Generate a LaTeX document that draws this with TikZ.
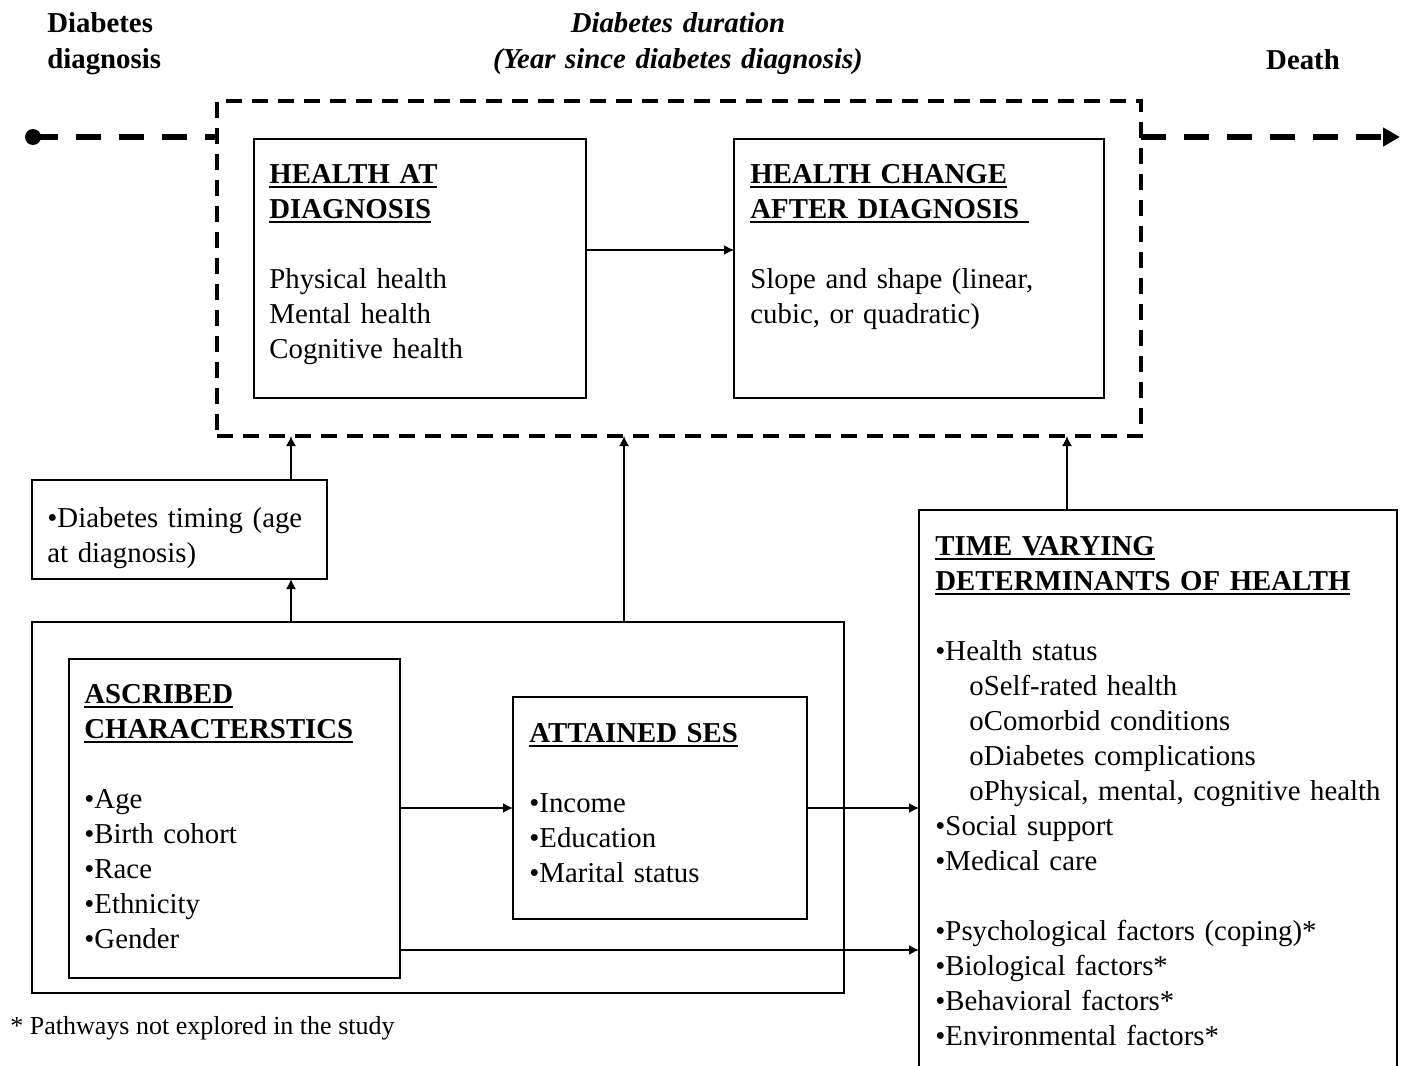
\documentclass[tikz,border=0pt]{standalone}
\usepackage{fontspec}
\setmainfont{Liberation Serif}
\usetikzlibrary{arrows.meta, positioning}

\newcommand{\ulhd}[1]{\leavevmode\setbox0\hbox{\bfseries #1}\rlap{\rule[-2.5pt]{\wd0}{0.9pt}}\box0}
\newcommand{\subitm}{\hspace*{17pt}o}

\begin{document}
\begin{tikzpicture}[
    x=0.5pt, y=-0.5pt,
    box/.style={
        rectangle, draw, line width=0.75pt, inner sep=0pt, outer sep=0pt,
        anchor=north west
    },
    durbox/.style={
        box, line width=2pt, dash pattern=on 8pt off 5pt
    },
    txt/.style={
        anchor=base west, inner sep=0pt, align=left, text width=#1,
        font=\fontsize{14.4}{17.5}\selectfont
    },
    lbl/.style={
        inner sep=0pt, font=\fontsize{14.4}{17.5}\selectfont\bfseries
    },
    timeline/.style={line width=3pt, dash pattern=on 12.5pt off 9pt},
    arrow/.style={line width=0.75pt, -{Latex[length=5pt,width=5pt]}}
]
\useasboundingbox (0,0) rectangle (1401,1065);
\clip (0,0) rectangle (1401,1065);

%% Time axis
\node (lbldiag)  [lbl, anchor=base west, align=left, text width=80pt] at (47,33)
    {Diabetes\\diagnosis};
\node (lbldur)   [lbl, anchor=base, align=center, text width=220pt] at (678,33)
    {\itshape Diabetes duration\\\itshape (Year since diabetes diagnosis)};
\node (lbldeath) [lbl, anchor=base] at (1303,70) {Death};

%% Health over the diabetes duration
\node (dur) [durbox, minimum width=462pt, minimum height=167.5pt] at (217,101) {};
\node (hd)  [box, minimum width=166pt, minimum height=129.5pt] at (254,139) {};
\node (hc)  [box, minimum width=185pt, minimum height=129.5pt] at (734,139) {};

\node (hdtext) [txt=150pt] at ([xshift=7.5pt,yshift=-22pt]hd.north west)
    {\ulhd{HEALTH AT}\\\ulhd{DIAGNOSIS}\\[17.5pt]
     Physical health\\Mental health\\Cognitive health};
\node (hctext) [txt=170pt] at ([xshift=8pt,yshift=-22pt]hc.north west)
    {\ulhd{HEALTH CHANGE}\\\ulhd{AFTER DIAGNOSIS\ }\\[17.5pt]
     Slope and shape (linear,\\cubic, or quadratic)};

\node (tstart) [circle, fill, inner sep=0pt, minimum size=8pt] at (33,137) {};
\coordinate (tend) at (1400,137);

%% Diabetes timing
\node (timing) [box, minimum width=147.5pt, minimum height=49.5pt] at (32,480) {};
\node (timingtext) [txt=135pt] at ([xshift=7.5pt,yshift=-23.5pt]timing.north west)
    {•Diabetes timing (age\\at diagnosis)};

%% Ascribed characteristics and attained SES
\node (outer) [box, minimum width=406pt, minimum height=185.5pt] at (32,622) {};
\node (asc)   [box, minimum width=165.5pt, minimum height=159.5pt] at (69,659) {};
\node (ses)   [box, minimum width=147pt, minimum height=111pt] at (513,697) {};

\node (asctext) [txt=150pt] at ([xshift=7.5pt,yshift=-22pt]asc.north west)
    {\ulhd{ASCRIBED}\\\ulhd{CHARACTERSTICS}\\[17.5pt]
     •Age\\•Birth cohort\\•Race\\•Ethnicity\\•Gender};
\node (sestext) [txt=135pt] at ([xshift=8pt,yshift=-22.5pt]ses.north west)
    {\ulhd{ATTAINED SES}\\[17.5pt]
     •Income\\•Education\\•Marital status};

%% Time varying determinants
\node (tv) [box, minimum width=239pt, minimum height=290pt] at (919,510) {};
\node (tvtext) [txt=228pt] at ([xshift=8pt,yshift=-22.5pt]tv.north west)
    {\ulhd{TIME VARYING}\\\ulhd{DETERMINANTS OF HEALTH}\\[17.5pt]
     •Health status\\
     \subitm Self-rated health\\
     \subitm Comorbid conditions\\
     \subitm Diabetes complications\\
     \subitm Physical, mental, cognitive health\\
     •Social support\\
     •Medical care\\[17.5pt]
     •Psychological factors (coping)*\\
     •Biological factors*\\
     •Behavioral factors*\\
     •Environmental factors*};

\node (note) [anchor=base west, inner sep=0pt, font=\fontsize{13}{15}\selectfont]
    at (10,1034) {* Pathways not explored in the study};

%% Arrows
\draw [timeline] (tstart.center) -- (tstart -| dur.west);
\draw [timeline, -{Triangle[length=8.5pt,width=9pt]}] (tstart -| dur.east) -- (tend);

\draw [arrow] ([yshift=9.25pt]hd.east) -- ([yshift=9.25pt]hc.west);
\draw [arrow] ([xshift=-18pt]timing.north east) coordinate (a) -- (a |- dur.south);
\draw [arrow] (outer.north -| a) -- (timing.south -| a);
\draw [arrow] ([xshift=93pt]outer.north) coordinate (b) -- (b |- dur.south);
\draw [arrow] (asc.east |- ses.west) -- (ses.west);
\draw [arrow] (ses.east) -- (ses.east -| tv.west);
\draw [arrow] ([yshift=-65.75pt]asc.east) coordinate (c) -- (c -| tv.west);
\draw [arrow] ([xshift=-45.5pt]tv.north) coordinate (d) -- (d |- dur.south);

\end{tikzpicture}
\end{document}
